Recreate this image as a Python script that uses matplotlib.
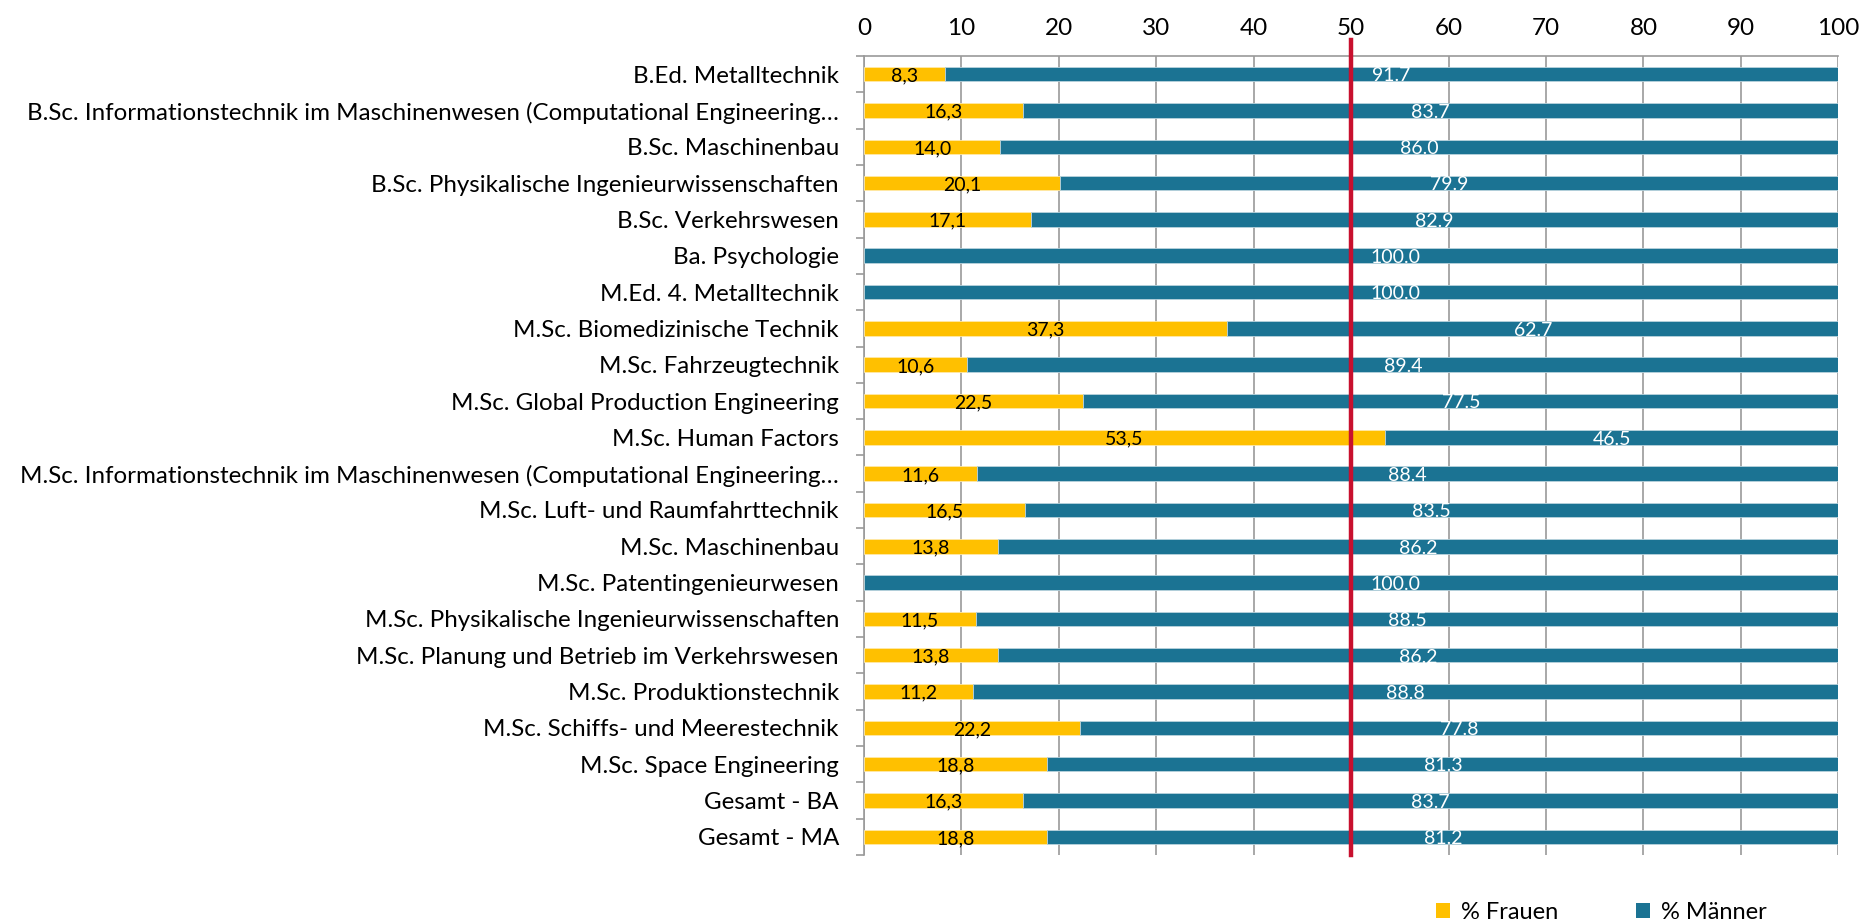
import matplotlib
matplotlib.use("Agg")
import matplotlib.pyplot as plt
from matplotlib.patches import Patch
import numpy as np

categories = [
    "B.Ed. Metalltechnik",
    "B.Sc. Informationstechnik im Maschinenwesen (Computational Engineering…",
    "B.Sc. Maschinenbau",
    "B.Sc. Physikalische Ingenieurwissenschaften",
    "B.Sc. Verkehrswesen",
    "Ba. Psychologie",
    "M.Ed. 4. Metalltechnik",
    "M.Sc. Biomedizinische Technik",
    "M.Sc. Fahrzeugtechnik",
    "M.Sc. Global Production Engineering",
    "M.Sc. Human Factors",
    "M.Sc. Informationstechnik im Maschinenwesen (Computational Engineering…",
    "M.Sc. Luft- und Raumfahrttechnik",
    "M.Sc. Maschinenbau",
    "M.Sc. Patentingenieurwesen",
    "M.Sc. Physikalische Ingenieurwissenschaften",
    "M.Sc. Planung und Betrieb im Verkehrswesen",
    "M.Sc. Produktionstechnik",
    "M.Sc. Schiffs- und Meerestechnik",
    "M.Sc. Space Engineering",
    "Gesamt - BA",
    "Gesamt - MA",
]
frauen = [8.3, 16.3, 14.0, 20.1, 17.1, 0.0, 0.0, 37.3, 10.6, 22.5, 53.5,
          11.6, 16.5, 13.8, 0.0, 11.5, 13.8, 11.2, 22.2, 18.8, 16.3, 18.8]
maenner = [91.7, 83.7, 86.0, 79.9, 82.9, 100.0, 100.0, 62.7, 89.4, 77.5, 46.5,
           88.4, 83.5, 86.2, 100.0, 88.5, 86.2, 88.8, 77.8, 81.3, 83.7, 81.2]
xticks = [0, 10, 20, 30, 40, 50, 60, 70, 80, 90, 100]
reference_value = 50

plt.rcParams['font.family'] = ['Lato', 'DejaVu Sans']

YELLOW = "#FFC000"
BLUE = "#1B7393"
RED = "#C8102E"
GRID = "#9A9A9A"

fig = plt.figure(figsize=(18.74, 9.24), dpi=100)
ax = fig.add_axes([0.461, 0.0747, 0.520, 0.8647])

y = np.arange(len(categories))
h = 0.4
ax.barh(y, frauen, height=h, color=YELLOW, edgecolor="#FFE9A8", linewidth=0.6, zorder=3)
ax.barh(y, maenner, left=frauen, height=h, color=BLUE, edgecolor="#B9D3DD", linewidth=0.6, zorder=3)

for i, (f, m) in enumerate(zip(frauen, maenner)):
    if f > 0:
        ax.text(f / 2, i + 0.05, f"{f:.1f}".replace(".", ","), ha="center", va="center",
                fontsize=14, color="black", zorder=5)
    if m > 0:
        xm = f + m / 2
        if f == 0:
            # label sits just right of the reference line in the original
            xm += 4.5
        ax.text(xm, i + 0.05, f"{m:.1f}", ha="center", va="center",
                fontsize=14, color="white", zorder=7)

ax.set_xlim(0, 100)
ax.set_ylim(len(categories) - 0.5, -0.5)
ax.xaxis.tick_top()
ax.set_xticks(xticks)
ax.tick_params(axis="x", length=0, labelsize=17.5, pad=12)
ax.set_yticks(y)
ax.set_yticklabels(categories, fontsize=17.4)
ax.tick_params(axis="y", which="major", length=0, pad=18)
ax.set_yticks(np.arange(-0.5, len(categories) + 0.5, 1), minor=True)
ax.tick_params(axis="y", which="minor", length=6, color=GRID, width=1.2, direction="out")

ax.grid(axis="x", color=GRID, linewidth=1.2, zorder=0)
ax.set_axisbelow(True)
for s in ["right", "bottom"]:
    ax.spines[s].set_visible(False)
for s in ["left", "top"]:
    ax.spines[s].set_color(GRID)
    ax.spines[s].set_linewidth(1.2)

ax.axvline(reference_value, ymin=0, ymax=1 + 16 / 799, color=RED, linewidth=3.2,
           clip_on=False, zorder=6)

handles = [Patch(facecolor=YELLOW, label="% Frauen"), Patch(facecolor=BLUE, label="% Männer")]
fig.legend(handles=handles, loc="lower left", bbox_to_anchor=(0.755, -0.022), ncol=2,
           frameon=False, fontsize=17, handlelength=0.6, handleheight=0.6,
           handletextpad=0.45, columnspacing=3.3)

fig.savefig("out.png", dpi=100)
